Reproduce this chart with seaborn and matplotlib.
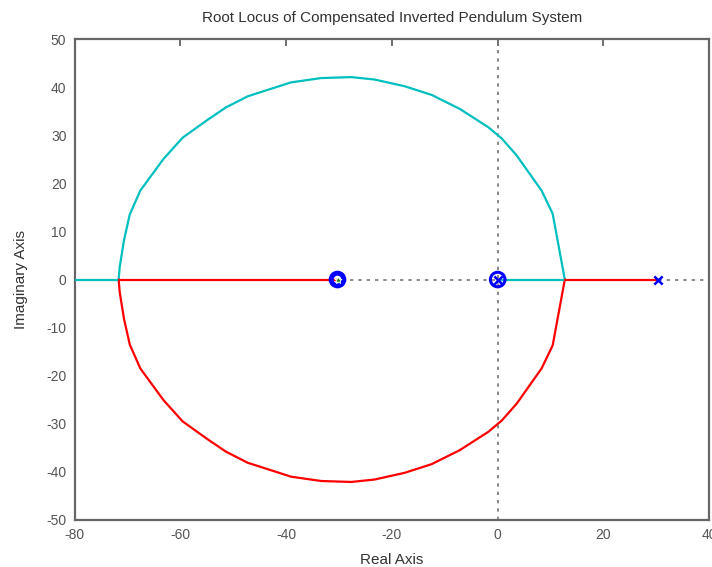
import numpy as np
import pandas as pd
import matplotlib
matplotlib.use("Agg")
import matplotlib.pyplot as plt
import seaborn as sns

# upper branch of the locus, lower branch is its mirror
upper_re = [-71.7, -71.5, -70.7, -69.6, -67.6, -63.2, -59.6, -54.9, -51.4, -47.3,
            -39.1, -33.4, -27.7, -23.3, -17.6, -12.5, -7.2, -1.8, 0.8, 3.6,
            8.3, 10.4, 12.7]
upper_im = [0.0, 2.6, 8.1, 13.5, 18.5, 25.1, 29.5, 33.2, 35.8, 38.1,
            41.0, 41.9, 42.1, 41.6, 40.2, 38.4, 35.5, 31.7, 29.3, 25.8,
            18.5, 13.7, 0.0]

# real axis segments
cyan_axis_re = [[-80.0, -71.7], [0.0, 12.7]]
red_axis_re = [[-71.7, -30.3], [12.7, 30.3]]

open_poles = [0.0, 30.3]
open_zeros = [-30.3, 0.0]
cl_poles = [-30.3]

x_ticks = [-80, -60, -40, -20, 0, 20, 40]
y_ticks = [-50, -40, -30, -20, -10, 0, 10, 20, 30, 40, 50]

cyan = "#00bfbf"
red = "#ff0000"
grey = "#555555"

sns.set_style("white")
plt.rcParams["font.family"] = ["Liberation Sans", "DejaVu Sans"]
plt.rcParams["axes.unicode_minus"] = False

fig = plt.figure(figsize=(7.12, 5.67), dpi=100)
ax = fig.add_axes([0.105, 0.083, 0.891, 0.848])

# dotted axes through the origin
ax.axhline(0, color="#777777", linestyle=(0, (2, 3)), linewidth=1.2, zorder=1)
ax.axvline(0, color="#777777", linestyle=(0, (2, 3)), linewidth=1.2, zorder=1)

upper = pd.DataFrame({"re": upper_re, "im": upper_im})
lower = pd.DataFrame({"re": upper_re, "im": [-v for v in upper_im]})
sns.lineplot(data=upper, x="re", y="im", sort=False, estimator=None,
             color=cyan, linewidth=1.6, ax=ax, zorder=3)
sns.lineplot(data=lower, x="re", y="im", sort=False, estimator=None,
             color=red, linewidth=1.6, ax=ax, zorder=3)

for seg in cyan_axis_re:
    sns.lineplot(x=seg, y=[0, 0], sort=False, estimator=None,
                 color=cyan, linewidth=1.6, ax=ax, zorder=3)
for seg in red_axis_re:
    sns.lineplot(x=seg, y=[0, 0], sort=False, estimator=None,
                 color=red, linewidth=1.6, ax=ax, zorder=3)

# poles, zeros, closed-loop pole
sns.scatterplot(x=open_zeros, y=[0] * len(open_zeros), marker="o",
                facecolor="none", edgecolor="blue", linewidth=2.2, s=110, ax=ax, zorder=5)
sns.scatterplot(x=[-30.3], y=[0], marker="o", facecolor="none",
                edgecolor="blue", linewidth=2.2, s=60, ax=ax, zorder=5)
sns.scatterplot(x=open_poles, y=[0] * len(open_poles), marker="x",
                color="blue", linewidth=1.8, s=35, ax=ax, zorder=6)
sns.scatterplot(x=cl_poles, y=[0] * len(cl_poles), marker="*",
                color="green", linewidth=0.5, s=30, ax=ax, zorder=7)

ax.set_xlim(-80, 40)
ax.set_ylim(-50, 50)
ax.set_xticks(x_ticks)
ax.set_yticks(y_ticks)
ax.tick_params(direction="in", length=5, width=1.2, color=grey,
               labelcolor=grey, labelsize=10, top=True, right=False, pad=6)

for sp in ax.spines.values():
    sp.set_color("#666666")
    sp.set_linewidth(1.6)

ax.set_title("Root Locus of Compensated Inverted Pendulum System",
             fontsize=11, color="#333333", pad=12)
ax.set_xlabel("Real Axis", fontsize=11, color="#333333", labelpad=8)
ax.set_ylabel("Imaginary Axis", fontsize=11, color="#333333", labelpad=13)

fig.savefig("out.png", dpi=100)
